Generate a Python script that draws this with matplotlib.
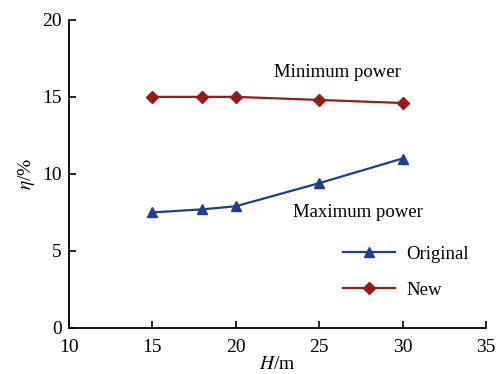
import matplotlib.pyplot as plt

plt.rcParams['font.family'] = ['Liberation Serif', 'DejaVu Serif']
plt.rcParams['mathtext.fontset'] = 'stix'

# head H (m) and efficiency eta (%)
heads = [15, 18, 20, 25, 30]
eta_original = [7.5, 7.7, 7.9, 9.4, 11.0]
eta_new = [15.0, 15.0, 15.0, 14.8, 14.6]

blue = '#1c3f94'
red = '#9a1a1a'

fig = plt.figure(figsize=(4.99, 3.74), dpi=100)
ax = fig.add_axes([0.138, 0.123, 0.836, 0.824])

ax.plot(heads, eta_original, color=blue, marker='^', markersize=7, lw=1.6, label='Original')
ax.plot(heads, eta_new, color=red, marker='D', markersize=6, lw=1.6, label='New')

ax.set_xlim(10, 35)
ax.set_ylim(0, 20)
ax.set_xticks([10, 15, 20, 25, 30, 35])
ax.set_yticks([0, 5, 10, 15, 20])

for side in ('top', 'right'):
    ax.spines[side].set_visible(False)
for side in ('left', 'bottom'):
    ax.spines[side].set_linewidth(1.3)
ax.tick_params(direction='in', length=5, width=1.2, labelsize=14)
ax.tick_params(axis='x', pad=8)
ax.tick_params(axis='y', pad=5)

ax.set_xlabel('$H$/m', fontsize=14, labelpad=0)
ax.set_ylabel('$\\eta$/%', fontsize=14, labelpad=4)

ax.text(26.1, 16.6, 'Minimum power', fontsize=13.5, ha='center', va='center')
ax.text(27.3, 7.5, 'Maximum power', fontsize=13.5, ha='center', va='center')

ax.legend(loc='lower right', bbox_to_anchor=(1.0, 0.04), frameon=False, fontsize=13.5,
          handlelength=2.8, handletextpad=0.6, labelspacing=1.0)

fig.savefig('out.png', dpi=100)
